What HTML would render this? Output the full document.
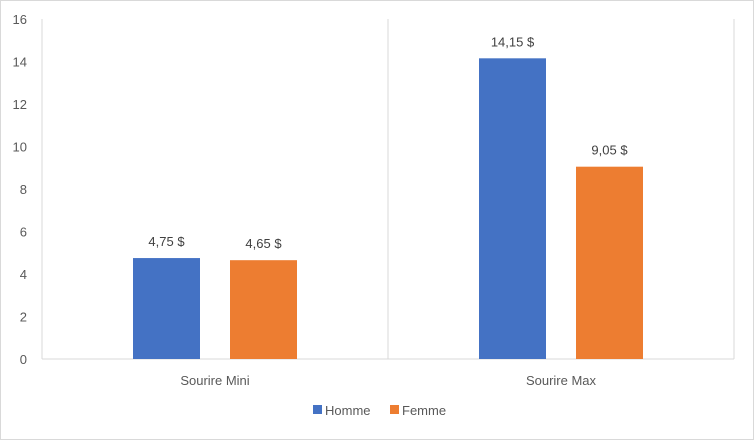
<!DOCTYPE html>
<html><head><meta charset="utf-8"><style>
body{margin:0;background:#fff;font-family:"Liberation Sans",sans-serif;}
svg text{font-family:"Liberation Sans",sans-serif;}
</style></head><body>
<svg width="754" height="440">
<rect x="0.5" y="0.5" width="753" height="439" fill="#fff" stroke="#d9d9d9"/>
<g id="grid"></g><g id="bars"></g><g id="labels"></g>
<g>
<rect x="313" y="405" width="9" height="9" fill="#4472c4"/>
<text x="325" y="415" font-size="13" fill="#595959">Homme</text>
<rect x="390" y="405" width="9" height="9" fill="#ed7d31"/>
<text x="402" y="415" font-size="13" fill="#595959">Femme</text>
</g>
</svg>
<script>
const categories=["Sourire Mini","Sourire Max"];
const homme=[4.75,14.15];
const femme=[4.65,9.05];
const valueLabelsHomme=["4,75 $","14,15 $"];
const valueLabelsFemme=["4,65 $","9,05 $"];
const yTicks=[0,2,4,6,8,10,12,14,16];
const NS="http://www.w3.org/2000/svg";
const L=42,R=734,T=19,B=359,yMax=16;
const y=v=>B-(v/yMax)*(B-T);
const catW=(R-L)/categories.length;
const cx=i=>L+catW*(i+0.5);
function mk(tag,attrs,parent,txt){const e=document.createElementNS(NS,tag);for(const k in attrs)e.setAttribute(k,attrs[k]);if(txt!==undefined)e.textContent=txt;document.getElementById(parent).appendChild(e);return e;}
for(let i=0;i<=categories.length;i++){const x=L+catW*i;
const g=mk('line',{x1:x,x2:x,y1:T,y2:B,stroke:'#d9d9d9'},'grid');

}
const base=mk('line',{x1:L,x2:R,y1:B,y2:B,stroke:'#d9d9d9'},'grid');


yTicks.forEach(t=>{const e=mk('text',{x:27,y:y(t)+5,'text-anchor':'end','font-size':13,fill:'#595959'},'labels',t);

});
const bw=67,gap=30;
categories.forEach((c,i)=>{
const xh=cx(i)-gap/2-bw, xf=cx(i)+gap/2;
const bh=mk('rect',{x:xh,y:y(homme[i]),width:bw,height:B-y(homme[i]),fill:'#4472c4'},'bars');


const bf=mk('rect',{x:xf,y:y(femme[i]),width:bw,height:B-y(femme[i]),fill:'#ed7d31'},'bars');


const lh=mk('text',{x:xh+bw/2,y:y(homme[i])-12,'text-anchor':'middle','font-size':13,fill:'#404040'},'labels',valueLabelsHomme[i]);


const lf=mk('text',{x:xf+bw/2,y:y(femme[i])-12,'text-anchor':'middle','font-size':13,fill:'#404040'},'labels',valueLabelsFemme[i]);


const cl=mk('text',{x:cx(i),y:385,'text-anchor':'middle','font-size':13,fill:'#595959'},'labels',c);


});
</script>
</body></html>
